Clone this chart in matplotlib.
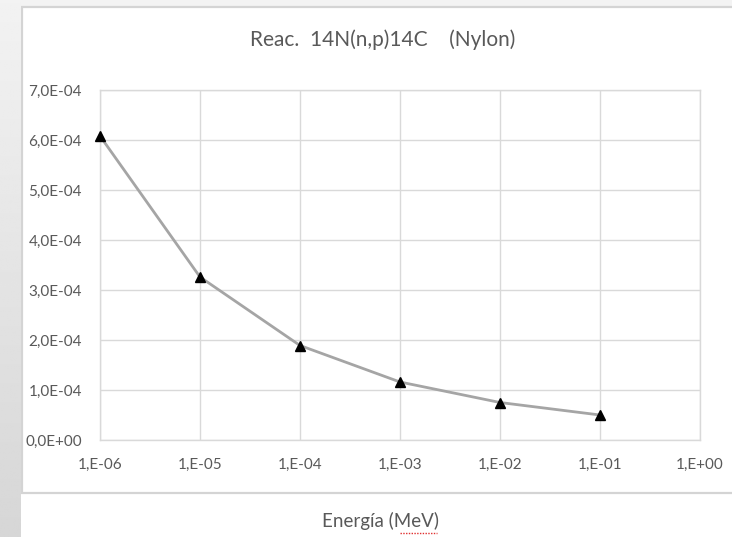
import numpy as np
import matplotlib
matplotlib.use("Agg")
import matplotlib.pyplot as plt
from matplotlib.patches import Rectangle
from matplotlib.lines import Line2D

plt.rcParams["font.family"] = ["Lato", "DejaVu Sans"]

# data
energy = [1e-6, 1e-5, 1e-4, 1e-3, 1e-2, 1e-1]
rate = [6.08e-4, 3.26e-4, 1.89e-4, 1.16e-4, 0.75e-4, 0.50e-4]
x_ticks = [1e-6, 1e-5, 1e-4, 1e-3, 1e-2, 1e-1, 1e0]
x_labels = ["1,E-06", "1,E-05", "1,E-04", "1,E-03", "1,E-02", "1,E-01", "1,E+00"]
y_ticks = [0, 1e-4, 2e-4, 3e-4, 4e-4, 5e-4, 6e-4, 7e-4]
y_labels = ["0,0E+00", "1,0E-04", "2,0E-04", "3,0E-04", "4,0E-04",
            "5,0E-04", "6,0E-04", "7,0E-04"]
title = "Reac.  14N(n,p)14C    (Nylon)"
x_title = "Energía (MeV)"

W, H = 732, 537
text_col = "#595959"
grid_col = "#d9d9d9"

fig = plt.figure(figsize=(W / 100, H / 100), dpi=100)
fig.patch.set_facecolor("white")


def fx(px):
    return px / W


def fy(py):
    return 1 - py / H


# window background: light strip on top, gradient strip on the left
fig.patches.append(Rectangle((0, fy(6)), 1, 6 / H, transform=fig.transFigure,
                             facecolor="#f3f3f3", edgecolor="none", zorder=-10))
strip = fig.add_axes([0, 0, fx(21), 1])
grad = np.linspace(0.95, 0.84, 256).reshape(-1, 1)
strip.imshow(grad, aspect="auto", cmap="gray", vmin=0, vmax=1,
             extent=[0, 1, 0, 1])
strip.set_axis_off()

# chart box border
fig.patches.append(Rectangle((fx(22), fy(493)), 1, (493 - 7) / H,
                             transform=fig.transFigure, facecolor="white",
                             edgecolor="#d4d4d4", linewidth=1.6, zorder=-9))

ax = fig.add_axes([fx(100), fy(440), fx(600), 350 / H])
ax.set_facecolor("white")
ax.plot(energy, rate, color="#a5a5a5", linewidth=2, marker="^",
        markersize=7, markerfacecolor="black", markeredgecolor="black",
        zorder=3, clip_on=False)

ax.set_xscale("log")
ax.set_xlim(1e-6, 1e0)
ax.set_ylim(0, 7e-4)
ax.set_xticks(x_ticks)
ax.set_xticklabels(x_labels)
ax.xaxis.set_minor_locator(matplotlib.ticker.NullLocator())
ax.set_yticks(y_ticks)
ax.set_yticklabels(y_labels)
ax.grid(True, color=grid_col, linewidth=1)
ax.set_axisbelow(True)
for sp in ax.spines.values():
    sp.set_color(grid_col)
    sp.set_linewidth(1)
ax.tick_params(axis="both", length=0, labelsize=11, labelcolor=text_col)
ax.tick_params(axis="x", pad=13)
ax.tick_params(axis="y", pad=13)

fig.text(fx(383), fy(40), title, ha="center", va="center",
         fontsize=15, color=text_col)
fig.text(fx(380), fy(521), x_title, ha="center", va="center",
         fontsize=13.5, color=text_col)
# spell-check underline under "MeV"
fig.lines.append(Line2D([fx(400), fx(437)], [fy(533), fy(533)],
                        transform=fig.transFigure, color="#e03030",
                        linewidth=1, linestyle=(0, (1, 1))))

fig.savefig("out.png", dpi=100)
